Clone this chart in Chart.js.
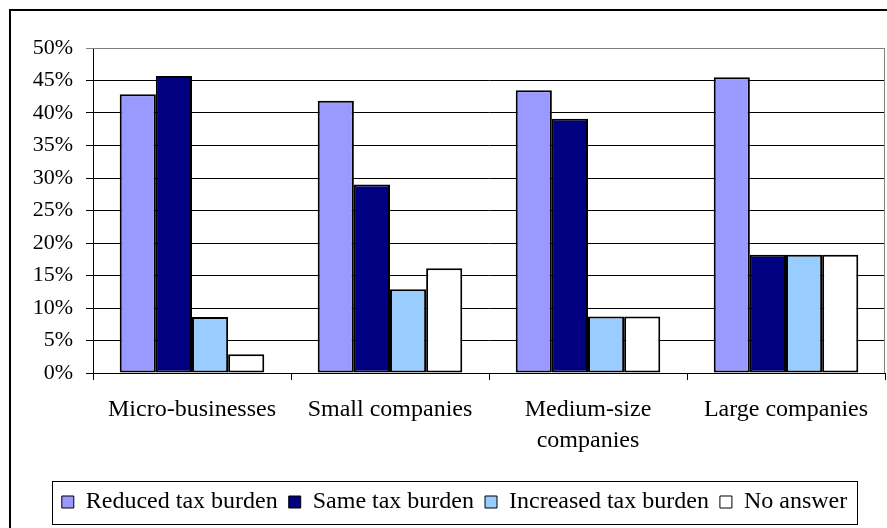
<!DOCTYPE html>
<html>
<head>
<meta charset="utf-8">
<script src="https://cdn.jsdelivr.net/npm/chart.js@4/dist/chart.umd.min.js"></script>
<style>
    html, body { margin: 0; padding: 0; background: #fff; }
    #wrap { width: 887px; height: 528px; position: relative; }
</style>
</head>
<body>
<div id="wrap"><canvas id="grafico"></canvas></div>
<script>
// Datos del gráfico (porcentajes por tamaño de empresa)
const categorias = ['Micro-businesses', 'Small companies', ['Medium-size', 'companies'], 'Large companies'];
const reducida = [42.9, 41.9, 43.5, 45.5];
const igual = [45.7, 29.0, 39.1, 18.2];
const aumentada = [8.6, 12.9, 8.7, 18.2];
const sinRespuesta = [2.9, 16.1, 8.7, 18.2];
const ticksY = [0, 5, 10, 15, 20, 25, 30, 35, 40, 45, 50];

const FUENTE = 'Liberation Serif, Times New Roman, serif';

const serie = (label, data, color) => ({
    label, data,
    backgroundColor: color,
    borderColor: '#000',
    borderWidth: 2,
    borderSkipped: false,
    categoryPercentage: 0.73,
    barPercentage: 1
});

// La leyenda del original no está centrada en el lienzo: se desplaza un poco a la derecha
const moverLeyenda = {
    id: 'moverLeyenda',
    afterLayout(chart) {
        chart.legend.left += 12;
        chart.legend.right += 12;
    }
};

// Marco exterior (solo lados izquierdo y superior visibles) y borde del área de trazado
const marco = {
    id: 'marco',
    afterDraw(chart) {
        const ctx = chart.ctx;
        const a = chart.chartArea;
        ctx.save();
        ctx.strokeStyle = '#000';
        ctx.lineWidth = 2;
        ctx.beginPath();
        ctx.moveTo(10, 528);
        ctx.lineTo(10, 10);
        ctx.lineTo(887, 10);
        ctx.stroke();

        ctx.strokeStyle = '#808080';
        ctx.lineWidth = 1;
        ctx.beginPath();
        ctx.moveTo(a.left, a.top + 0.5);
        ctx.lineTo(a.right - 0.5, a.top + 0.5);
        ctx.lineTo(a.right - 0.5, a.bottom);
        ctx.stroke();

        // Recuadro de la leyenda
        const cajas = chart.legend.legendHitBoxes;
        if (cajas && cajas.length) {
            const izq = Math.min(...cajas.map(c => c.left)) - 10;
            const der = Math.max(...cajas.map(c => c.left + c.width)) + 10;
            const arr = Math.min(...cajas.map(c => c.top)) - 9;
            const aba = Math.max(...cajas.map(c => c.top + c.height)) + 10;
            ctx.strokeStyle = '#000';
            ctx.lineWidth = 1;
            ctx.strokeRect(Math.round(izq) + 0.5, Math.round(arr) + 0.5, Math.round(der - izq), Math.round(aba - arr));
        }
        ctx.restore();
    }
};

new Chart(document.getElementById('grafico'), {
    type: 'bar',
    data: {
        labels: categorias,
        datasets: [
            serie('Reduced tax burden', reducida, '#9999FF'),
            serie('Same tax burden', igual, '#000080'),
            serie('Increased tax burden', aumentada, '#99CCFF'),
            serie('No answer', sinRespuesta, '#FFFFFF')
        ]
    },
    options: {
        responsive: true,
        maintainAspectRatio: false,
        animation: false,
        layout: { padding: { top: 48, right: 2, left: 0, bottom: 4 } },
        plugins: {
            tooltip: { enabled: false },
            legend: {
                position: 'bottom',
                labels: {
                    font: { family: FUENTE, size: 24 },
                    color: '#000',
                    boxWidth: 12,
                    boxHeight: 12,
                    padding: 11,
                    generateLabels(chart) {
                        return chart.data.datasets.map((ds, i) => ({
                            text: ds.label,
                            fillStyle: ds.backgroundColor,
                            strokeStyle: '#000',
                            lineWidth: 1,
                            datasetIndex: i
                        }));
                    }
                }
            }
        },
        scales: {
            x: {
                grid: {
                    offset: true,
                    drawOnChartArea: false,
                    color: '#000',
                    tickLength: 7
                },
                border: { color: '#000' },
                ticks: {
                    font: { family: FUENTE, size: 24, lineHeight: 1.3 },
                    color: '#000',
                    padding: 14,
                    maxRotation: 0,
                    autoSkip: false
                },
                afterFit(scale) { scale.height = 106; }
            },
            y: {
                min: 0,
                max: 50,
                afterBuildTicks(scale) { scale.ticks = ticksY.map(v => ({ value: v })); },
                grid: {
                    color: ctx => ctx.tick && ctx.tick.value === 50 ? '#808080' : '#000',
                    tickLength: 7
                },
                border: { color: '#000' },
                ticks: {
                    font: { family: FUENTE, size: 22 },
                    color: '#000',
                    padding: 13,
                    callback: v => v + '%'
                },
                afterFit(scale) { scale.width = 93; }
            }
        }
    },
    plugins: [moverLeyenda, marco]
});
</script>
</body>
</html>
